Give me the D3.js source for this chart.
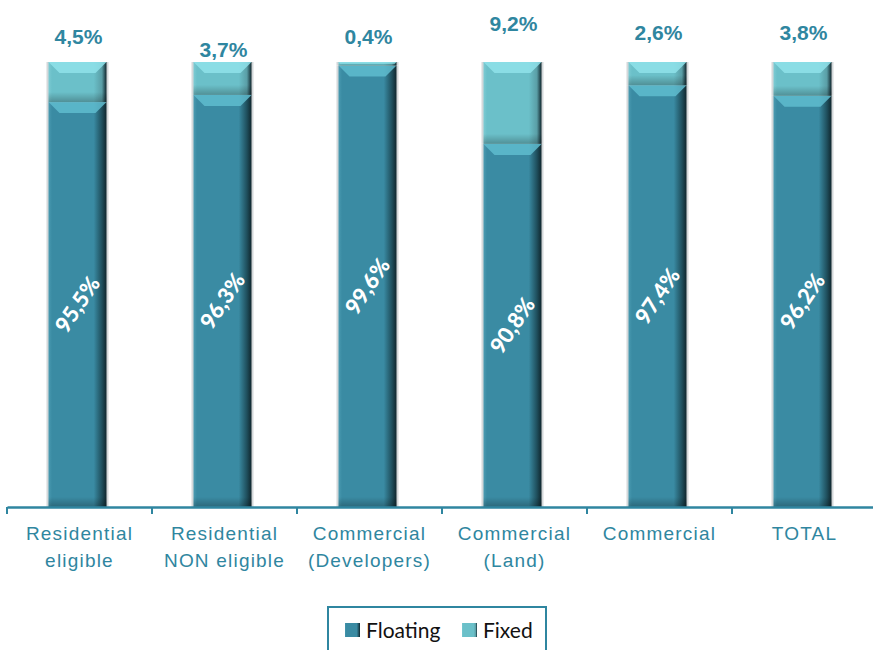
<!DOCTYPE html>
<html>
<head>
<meta charset="utf-8">
<script src="https://cdn.jsdelivr.net/npm/d3@7"></script>
<style>
  html, body { margin: 0; padding: 0; background: #ffffff; overflow: hidden; }
</style>
</head>
<body>
<div id="chart"></div>
<script>
// data
const categories = ["Residential\neligible", "Residential\nNON eligible", "Commercial\n(Developers)", "Commercial\n(Land)", "Commercial", "TOTAL"];
const floating = [95.5, 96.3, 99.6, 90.8, 97.4, 96.2];
const fixed = [4.5, 3.7, 0.4, 9.2, 2.6, 3.8];
const series = ["Floating", "Fixed"];

// chart variables
const width = 873;
const height = 650;
const teal = "#2f86a0";

// manual nudges of the top labels, as placed in the original slide
const fixedLabelY = [44, 57, 44, 31, 40, 40];

const svg = d3.select("#chart")
    .append("svg")
    .attr("width", width)
    .attr("height", height);

const x = d3.scaleBand()
    .domain(categories)
    .range([7, 877]);

const y = d3.scaleLinear()
    .domain([50, 100])
    .range([507, 62]);

const barW = x.bandwidth() * 0.4;

// gradients for the bevelled bars
const defs = svg.append("defs");
function bodyGradient(id, light, main, dark) {
    const g = defs.append("linearGradient").attr("id", id)
        .attr("x1", 0).attr("x2", 1).attr("y1", 0).attr("y2", 0);
    g.append("stop").attr("offset", "0%").attr("stop-color", light);
    g.append("stop").attr("offset", "6%").attr("stop-color", main);
    g.append("stop").attr("offset", "78%").attr("stop-color", main);
    g.append("stop").attr("offset", "92%").attr("stop-color", dark);
    g.append("stop").attr("offset", "100%").attr("stop-color", "#10262d");
}
bodyGradient("gFloat", "#4a9bb1", "#3a8ba3", "#1f4f5d");
bodyGradient("gFixed", "#7ccbd3", "#6bc0c9", "#5a9ea6");

const shadow = defs.append("linearGradient").attr("id", "gShadow")
    .attr("x1", 0).attr("x2", 0).attr("y1", 0).attr("y2", 1);
shadow.append("stop").attr("offset", "0%").attr("stop-color", "#000").attr("stop-opacity", 0);
shadow.append("stop").attr("offset", "100%").attr("stop-color", "#000").attr("stop-opacity", 0.25);

// one segment = body + bevel top + bottom shade
function segment(g, x0, y0, y1, fillId, bevel) {
    g.append("rect")
        .attr("x", x0 - 2).attr("y", y0)
        .attr("width", barW + 4).attr("height", y1 - y0)
        .attr("fill", "#d4d8da");
    g.append("rect")
        .attr("x", x0).attr("y", y0)
        .attr("width", barW).attr("height", y1 - y0)
        .attr("fill", `url(#${fillId})`);
    const h = Math.min(11, (y1 - y0) / 2);
    g.append("path")
        .attr("d", `M${x0},${y0} L${x0 + barW},${y0} L${x0 + barW - h},${y0 + h} L${x0 + h},${y0 + h} Z`)
        .attr("fill", bevel)
        .attr("opacity", 0.85);
    const sh = Math.min(10, (y1 - y0) / 2);
    g.append("rect")
        .attr("x", x0).attr("y", y1 - sh)
        .attr("width", barW).attr("height", sh)
        .attr("fill", "url(#gShadow)");
}

const bars = svg.append("g");
categories.forEach((c, i) => {
    const x0 = x(c) + (x.bandwidth() - barW) / 2 - 2;
    const g = bars.append("g");
    segment(g, x0, y(floating[i]), y(50), "gFloat", "#5fbccf");
    segment(g, x0, y(100), y(floating[i]), "gFixed", "#8fe2ea");
});

// axis
const axis = svg.append("g")
    .attr("transform", `translate(0,${y(50)})`)
    .call(d3.axisBottom(x).tickSize(0).tickFormat(""));
axis.select(".domain").attr("stroke", teal).attr("stroke-width", 2.5);
axis.selectAll(".tick").remove();

svg.append("g")
    .selectAll("line")
    .data(categories)
    .join("line")
    .attr("x1", d => x(d)).attr("x2", d => x(d))
    .attr("y1", y(50)).attr("y2", y(50) + 7)
    .attr("stroke", teal)
    .attr("stroke-width", 2);

// category labels
svg.append("g")
    .selectAll("text")
    .data(categories)
    .join("text")
    .attr("text-anchor", "middle")
    .attr("font-family", "Liberation Sans, Arial, sans-serif")
    .attr("font-size", 19)
    .attr("letter-spacing", 1.2)
    .attr("fill", teal)
    .each(function(d) {
        const t = d3.select(this);
        d.split("\n").forEach((line, k) => {
            t.append("tspan")
                .attr("x", x(d) + x.bandwidth() / 2)
                .attr("y", 540 + k * 27)
                .text(line);
        });
    });

const fmt = v => v.toFixed(1).replace(".", ",") + "%";

// fixed share labels
svg.append("g")
    .selectAll("text")
    .data(categories)
    .join("text")
    .attr("x", d => x(d) + x.bandwidth() / 2 - 1)
    .attr("y", (d, i) => fixedLabelY[i])
    .attr("text-anchor", "middle")
    .attr("font-family", "Liberation Sans, Arial, sans-serif")
    .attr("font-weight", "bold")
    .attr("font-size", 21)
    .attr("fill", teal)
    .text((d, i) => fmt(fixed[i]));

// floating share labels (rotated)
svg.append("g")
    .selectAll("text")
    .data(categories)
    .join("text")
    .attr("transform", (d, i) => `translate(${x(d) + x.bandwidth() / 2 - 2},${(y(floating[i]) + y(50)) / 2}) rotate(-56)`)
    .attr("text-anchor", "middle")
    .attr("dy", "0.35em")
    .attr("font-family", "Lato, sans-serif")
    .attr("font-weight", "900")
    .attr("font-size", 22)
    .attr("fill", "#ffffff")
    .text((d, i) => fmt(floating[i]));

// legend
const legend = svg.append("g");
legend.append("rect")
    .attr("x", 328).attr("y", 607)
    .attr("width", 218).attr("height", 60)
    .attr("fill", "#ffffff")
    .attr("stroke", teal)
    .attr("stroke-width", 2);

const legendX = [345, 462];
const legendFill = ["url(#gFloat)", "url(#gFixed)"];
series.forEach((s, i) => {
    legend.append("rect")
        .attr("x", legendX[i]).attr("y", 623)
        .attr("width", 15).attr("height", 14)
        .attr("fill", legendFill[i]);
    legend.append("text")
        .attr("x", legendX[i] + 21).attr("y", 638)
        .attr("font-family", "Lato, sans-serif")
        .attr("font-size", 21)
        .attr("fill", "#111")
        .text(s);
});
</script>
</body>
</html>
